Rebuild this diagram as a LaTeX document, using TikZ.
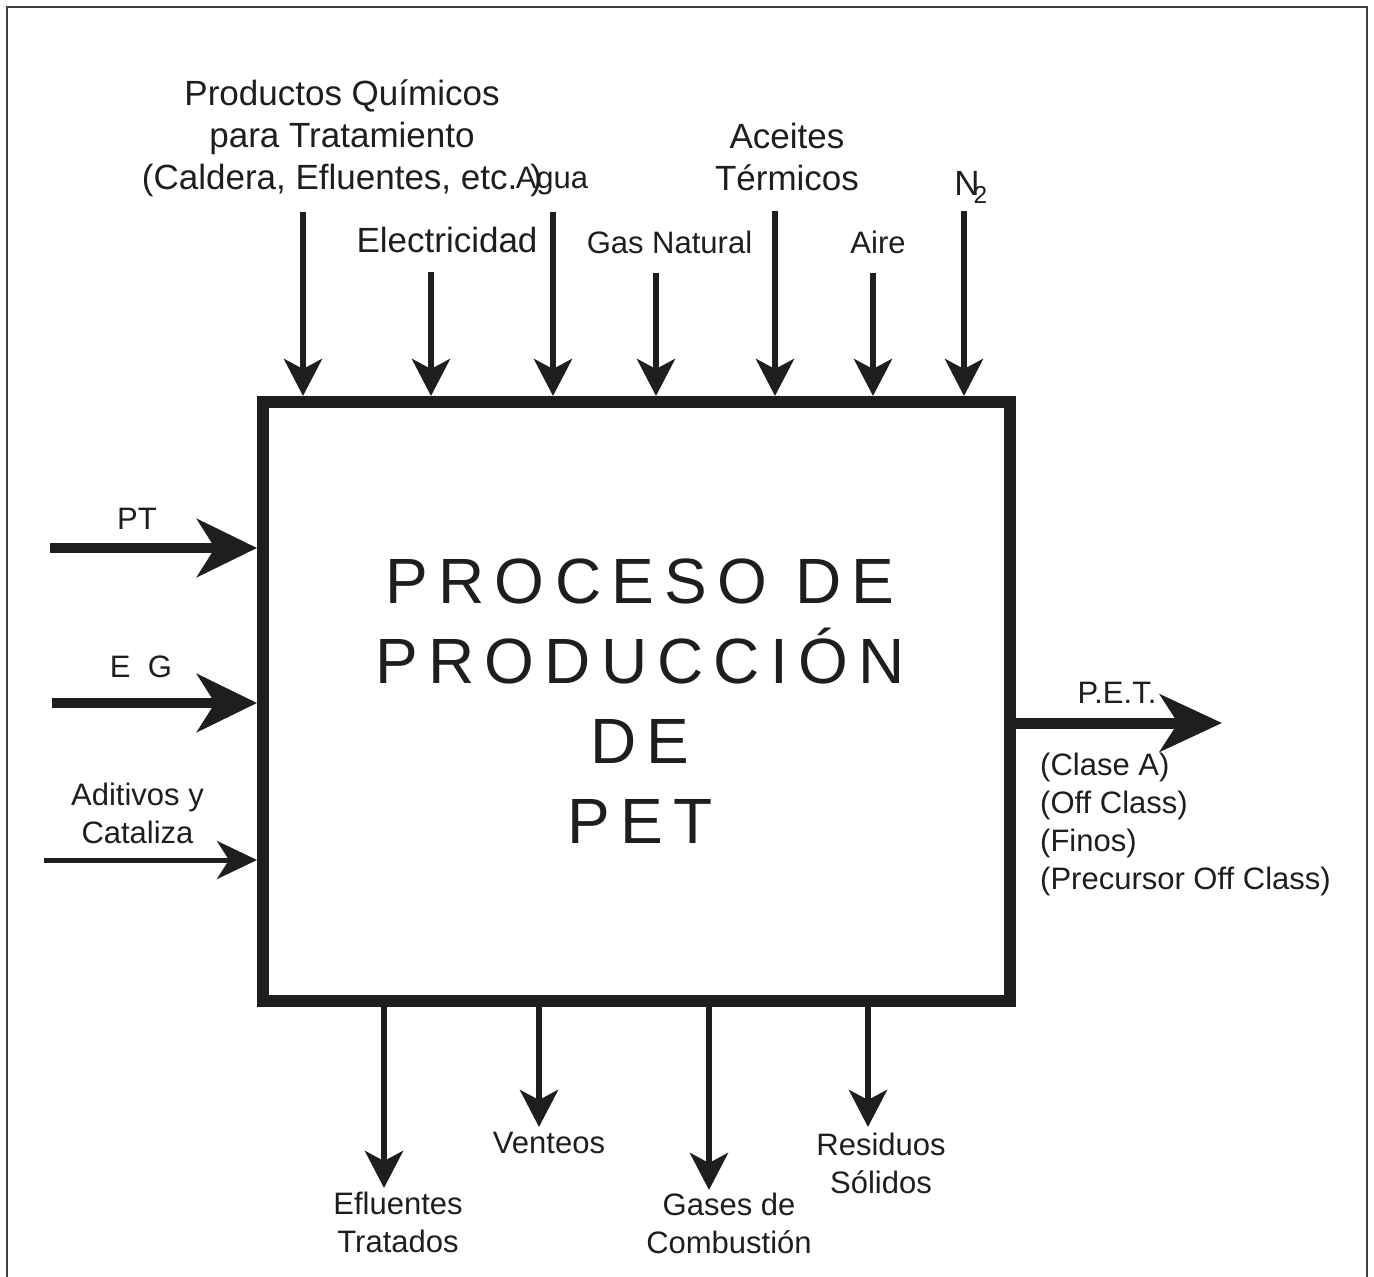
\documentclass[tikz,border=0pt]{standalone}
\usepackage{fontspec}
\setmainfont{Liberation Sans}
\newfontfamily\titlefont[LetterSpace=16]{Liberation Sans}
\usetikzlibrary{arrows.meta}
\definecolor{ink}{HTML}{1E1E1E}
\tikzset{
  big/.style={font=\fontsize{35}{42}\selectfont, align=center, inner sep=0pt, text=ink},
  small/.style={font=\fontsize{31}{38}\selectfont, align=center, inner sep=0pt, text=ink},
  titlestyle/.style={font=\titlefont\fontsize{64}{80}\selectfont, align=center, inner sep=0pt, text=ink},
  procbox/.style={draw=ink, line width=12pt, minimum width=747pt, minimum height=599pt, inner sep=0pt},
  thinarr/.style={draw=ink, line width=6pt, -{Stealth[length=37pt,width=38pt,inset=10pt]}},
  midarr/.style={draw=ink, line width=5pt, -{Stealth[length=40pt,width=38pt,inset=12pt]}},
  thickarr/.style={draw=ink, line width=10pt, -{Stealth[length=60pt,width=58pt,inset=18pt]}},
  petarr/.style={draw=ink, line width=11pt, -{Stealth[length=62pt,width=57pt,inset=18pt]}},
  frame/.style={draw=ink!85, line width=2.5pt}
}
\begin{document}
\begin{tikzpicture}[x=1pt,y=-1pt]
\useasboundingbox (0,0) rectangle (1374,1277);
\draw[frame] (7,1277) -- (7,7) -- (1367,7) -- (1367,1277);

\node[procbox] (box) at (636.5,701.5) {};
\node[titlestyle] (title) at (640,707) {\strut PROCESO DE\\\strut PRODUCCIÓN\\\strut DE\\\strut PET};

% top labels
\node[big] (lprod) at (342,138.6) {\strut Productos Químicos\\\strut para Tratamiento\\\strut (Caldera, Efluentes, etc. )};
\node[big] (lelec) at (447,243.6) {\strut Electricidad};
\node[small] (lagua) at (552,180.4) {\strut Agua};
\node[small] (lgas) at (669.5,245.4) {\strut Gas Natural};
\node[big] (lacei) at (787,160.6) {\strut Aceites\\\strut Térmicos};
\node[small] (laire) at (878,245.4) {\strut Aire};
\node[big] (ln2) at (971,186.6) {\strut N\kern-6pt\textsubscript{2}};

% top arrows
\coordinate (sprod) at (303,212);
\coordinate (selec) at (431,272);
\coordinate (sagua) at (553,212);
\coordinate (sgas) at (656,273);
\coordinate (sacei) at (775,211);
\coordinate (saire) at (873,273);
\coordinate (sn2) at (964,211);
\foreach \c in {sprod,selec,sagua,sgas,sacei,saire,sn2}
  \draw[thinarr] (\c) -- (\c |- box.north);

% left labels and arrows
\node[small] (lpt) at (137,521.4) {\strut PT};
\node[small] (leg) at (141,669.4) {\strut E\ \ G};
\node[small] (ladit) at (137.5,816.4) {\strut Aditivos y\\\strut Cataliza};
\coordinate (spt) at (50,548);
\coordinate (seg) at (52,703);
\coordinate (sadit) at (44,860);
\draw[thickarr] (spt) -- (spt -| box.west);
\draw[thickarr] (seg) -- (seg -| box.west);
\draw[midarr] (sadit) -- (sadit -| box.west);

% right output
\coordinate (epet) at (1222,723);
\draw[petarr] (epet -| box.east) -- (epet);
\node[small] (lpet) at (1117,695.4) {\strut P.E.T.};
\node[small, align=left, anchor=west] (lclase) at (1040,824.4)
  {\strut (Clase A)\\\strut (Off Class)\\\strut (Finos)\\\strut (Precursor Off Class)};

% bottom arrows
\coordinate (eeflu) at (384,1188);
\coordinate (event) at (539,1127);
\coordinate (egase) at (709,1190);
\coordinate (eresi) at (868,1127);
\foreach \c in {eeflu,event,egase,eresi}
  \draw[thinarr] (\c |- box.south) -- (\c);

% bottom labels
\node[small] (leflu) at (398,1225.4) {\strut Efluentes\\\strut Tratados};
\node[small] (lvent) at (549,1145.4) {\strut Venteos};
\node[small] (lgase) at (729,1226.4) {\strut Gases de\\\strut Combustión};
\node[small] (lresi) at (881,1166.4) {\strut Residuos\\\strut Sólidos};
\end{tikzpicture}
\end{document}
